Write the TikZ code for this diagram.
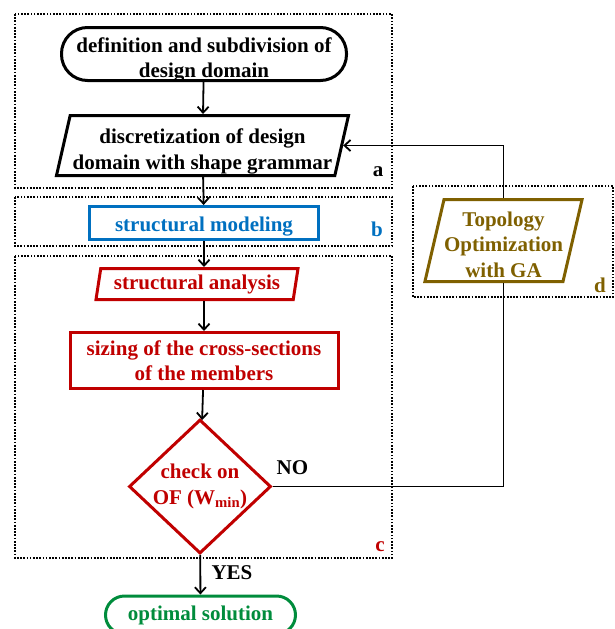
\documentclass[tikz,border=0pt]{standalone}
\usepackage{fontspec}
\setmainfont{Liberation Serif}
\usetikzlibrary{shapes.geometric,arrows.meta}

\definecolor{modelblue}{RGB}{0,112,192}
\definecolor{analysisred}{RGB}{192,0,0}
\definecolor{gaolive}{RGB}{127,96,0}
\definecolor{solgreen}{RGB}{0,140,60}

% text set a little lower than the middle of its block
\newcommand\drop[2]{\raisebox{-#1}[\height][\depth]{\begin{tabular}{@{}c@{}}#2\end{tabular}}}

\begin{document}
\begin{tikzpicture}[x=1pt, y=-1pt,
	every node/.style={font=\bfseries\fontsize{21}{25.5}\selectfont, align=center},
	box/.style={draw, line width=3pt, inner sep=0pt},
	terminal/.style={box, rounded corners=26pt},
	slanted/.style={box, trapezium, trapezium left angle=75, trapezium right angle=105, trapezium stretches body},
	panel/.style={line width=1.7pt, dash pattern=on 1.7pt off 1.5pt},
	flow/.style={line width=1.8pt, -{Straight Barb[length=6pt, width=11pt, line width=1.8pt]}},
]
\useasboundingbox (0,0) rectangle (615,629);

% dotted stage frames
\draw[panel] (15,14) rectangle (392,188);
\draw[panel] (15,197) rectangle (392,246);
\draw[panel] (15,256) rectangle (392,558);
\draw[panel] (413,186) rectangle (613,297);

\node (tag-a) at (378,171.5) {a};
\node[text=modelblue] (tag-b) at (377,229) {b};
\node[text=analysisred] (tag-c) at (380,547) {c};
\node[text=gaolive] (tag-d) at (600,285) {d};

% process blocks
\node[terminal, minimum width=285, minimum height=53] (domain) at (204,54) {\drop{6pt}{definition and subdivision of\\design domain}};
\node[slanted, minimum width=292, minimum height=60] (discret) at (202.5,145.5) {\drop{6pt}{discretization of design\\domain with shape grammar}};
\node[box, draw=modelblue, text=modelblue, minimum width=229, minimum height=33] (model) at (204,223) {\drop{3pt}{structural modeling}};
\node[slanted, draw=analysisred, text=analysisred, trapezium left angle=76, trapezium right angle=104, minimum width=202, minimum height=31] (analysis) at (197,284) {structural analysis};
\node[box, draw=analysisred, text=analysisred, minimum width=268, minimum height=56] (sizing) at (204,360.5) {sizing of the cross-sections\\of the members};
\node[box, diamond, draw=analysisred, text=analysisred, aspect=1.06, minimum width=142, minimum height=134] (check) at (200,486.5) {check on\\OF (W\textsubscript{min})};
\node[terminal, draw=solgreen, text=solgreen, rounded corners=19pt, minimum width=190, minimum height=38] (optimal) at (200.5,615) {optimal solution};
\node[slanted, draw=gaolive, text=gaolive, trapezium left angle=76, trapezium right angle=104, minimum width=146, minimum height=82] (ga) at (503.5,240.5) {\drop{6pt}{Topology\\Optimization\\with GA}};

% connectors
\draw[flow] (domain) -- (discret);
\draw[flow] (discret) -- (model);
\draw[flow] (model) -- (analysis.north -| model.south);
\draw[flow] (analysis.south -| model.south) -- (sizing);
\draw[flow] (sizing) -- (check);
\draw[flow] (check) -- node[right, pos=0.45, xshift=7pt] (yes) {YES} (optimal);
\draw[line width=1.8pt] (check.east) -- node[above, pos=0.086, yshift=8pt] (no) {NO} (check.east -| ga.south) -- (ga.south);
\draw[flow] (ga.north) |- (discret.east);

\end{tikzpicture}
\end{document}
